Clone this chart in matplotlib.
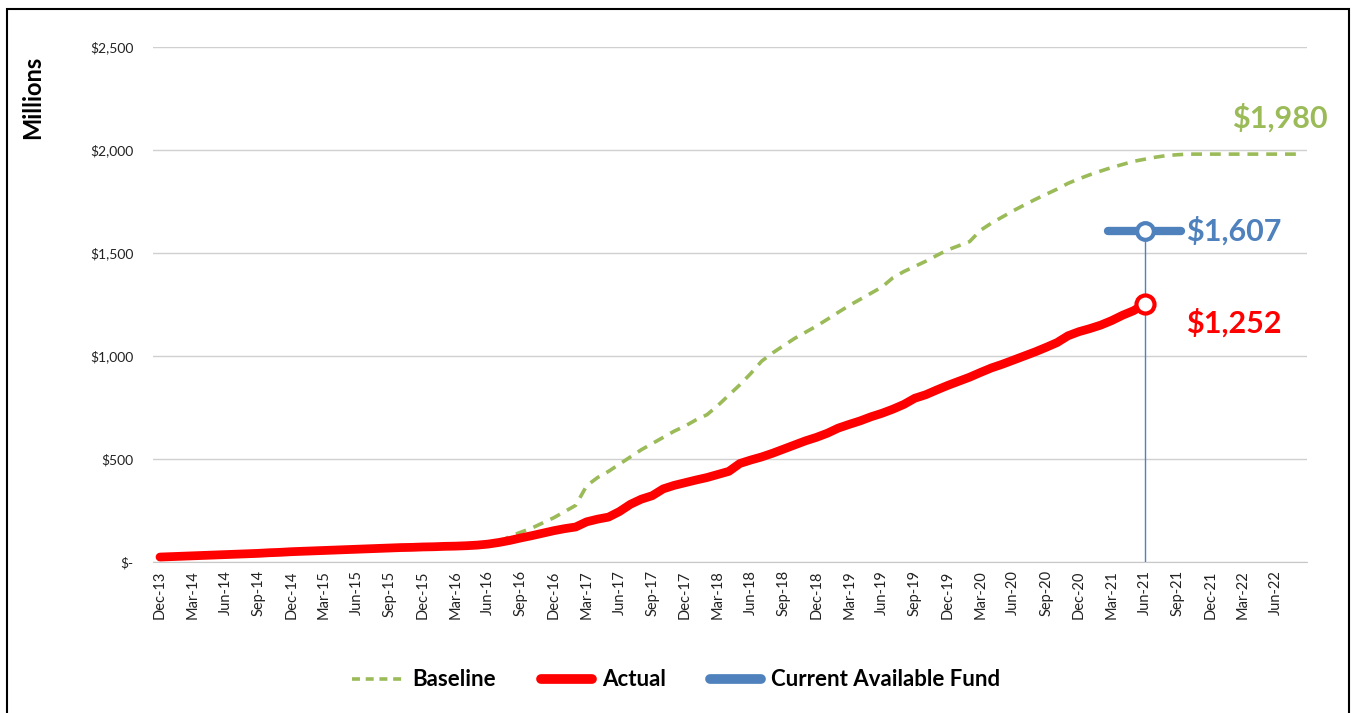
import matplotlib
matplotlib.use("Agg")
import matplotlib.pyplot as plt
import matplotlib.patches as mpatches
from matplotlib.lines import Line2D
import pandas as pd

plt.rcParams['font.family'] = ['Lato', 'DejaVu Sans']

# Monthly periods Dec-13 .. Aug-22
months = pd.date_range("2013-12-01", "2022-08-01", freq="MS")
month_labels = [d.strftime("%b-%y") for d in months]

# Actual cumulative spend ($M), Dec-13 .. Jun-21
actual = [24, 26, 28, 30, 32, 34, 36, 38, 40, 42, 45, 47, 50, 52, 54, 56, 58, 60,
          62, 64, 66, 68, 70, 71, 73, 74, 76, 77, 79, 82, 87, 95, 105, 117, 128,
          140, 152, 162, 170, 195, 208, 218, 245, 280, 305, 322, 355, 372, 385,
          398, 410, 425, 440, 478, 495, 510, 528, 548, 568, 588, 605, 625, 650,
          668, 685, 705, 722, 742, 765, 795, 812, 835, 857, 877, 897, 920, 942,
          960, 980, 1000, 1020, 1042, 1065, 1098, 1118, 1133, 1150, 1172, 1198,
          1220, 1252]

# Baseline ($M), Jul-16 .. Aug-22
baseline_start = 31
baseline = [95, 125, 145, 165, 190, 215, 245, 275, 370, 410, 440, 475, 510, 545,
            575, 605, 635, 660, 690, 715, 760, 810, 860, 915, 975, 1015, 1050,
            1085, 1115, 1145, 1178, 1212, 1245, 1275, 1305, 1335, 1380, 1410,
            1435, 1460, 1488, 1515, 1535, 1555, 1610, 1645, 1675, 1705, 1733,
            1760, 1785, 1810, 1838, 1860, 1880, 1898, 1915, 1930, 1945, 1955,
            1965, 1973, 1977, 1980, 1980, 1980, 1980, 1980, 1980, 1980, 1980,
            1980, 1980, 1980]

current_fund = 1607
fund_month = "Jun-21"
fund_span = 3.3  # months either side

GREEN = "#9BBB59"
RED = "#FF0000"
BLUE = "#4F81BD"

W, H = 1354, 713
fig = plt.figure(figsize=(W / 100, H / 100), dpi=100)
ax = fig.add_axes([153 / W, 1 - 562 / H, (1307 - 153) / W, (562 - 47) / H])

x_actual = list(range(len(actual)))
x_base = list(range(baseline_start, baseline_start + len(baseline)))
fi = month_labels.index(fund_month)

ax.plot(x_base, baseline, color=GREEN, lw=2.6, ls=(0, (3, 2.2)), zorder=3)
ax.plot(x_actual, actual, color=RED, lw=6.3, solid_capstyle='round',
        solid_joinstyle='round', zorder=4)
ax.plot([x_actual[-1]], [actual[-1]], 'o', ms=13, mfc='white', mec=RED, mew=3, zorder=6)

ax.plot([fi, fi], [0, current_fund], color=BLUE, lw=1, zorder=2)
ax.plot([fi - fund_span, fi + fund_span], [current_fund, current_fund], color=BLUE,
        lw=6, solid_capstyle='round', zorder=5)
ax.plot([fi], [current_fund], 'o', ms=12, mfc='white', mec=BLUE, mew=3, zorder=6)

ax.text(106.7, 2155, "${:,}".format(baseline[-1]), color=GREEN,
        fontsize=22, fontweight='bold', ha='right', va='center', clip_on=False)
ax.text(fi + 3.8, current_fund, "${:,}".format(current_fund), color=BLUE,
        fontsize=22, fontweight='bold', ha='left', va='center')
ax.text(fi + 3.8, 1160, "${:,}".format(actual[-1]), color=RED,
        fontsize=22, fontweight='bold', ha='left', va='center')

ax.set_xlim(-0.64, 104.85)
ax.set_ylim(0, 2500)
yt = [0, 500, 1000, 1500, 2000, 2500]
ax.set_yticks(yt)
ax.set_yticklabels(["$-" if v == 0 else "${:,}".format(v) for v in yt],
                   fontsize=10, color="#222222")
xt = list(range(0, len(months), 3))
ax.set_xticks(xt)
ax.set_xticklabels([month_labels[i] for i in xt], rotation=90, fontsize=10.5,
                   color="#222222")
ax.tick_params(axis='y', length=0, pad=14)
ax.tick_params(axis='x', length=0, pad=6)
ax.grid(axis='y', color="#D0D0D0", lw=1)
ax.set_axisbelow(True)
for s in ['top', 'right', 'left']:
    ax.spines[s].set_visible(False)
ax.spines['bottom'].set_color("#C8C8C8")

fig.text(33 / W, 1 - 97 / H, "Millions", rotation=90, fontsize=17,
         fontweight='bold', ha='center', va='center')

handles = [Line2D([], [], color=GREEN, lw=2.6, ls=(0, (2.2, 1.6))),
           Line2D([], [], color=RED, lw=7, solid_capstyle='round'),
           Line2D([], [], color=BLUE, lw=7, solid_capstyle='round')]
fig.legend(handles, ["Baseline", "Actual", "Current Available Fund"],
           loc='center', bbox_to_anchor=(676 / W, 1 - 680 / H), ncol=3,
           frameon=False, handlelength=2.3, columnspacing=2.0, handletextpad=0.45,
           prop={'weight': 'bold', 'size': 16})

fig.patches.append(mpatches.Rectangle((7 / W, -0.05), (1349 - 7) / W, 1.05 - 9 / H,
                                      transform=fig.transFigure, fill=False,
                                      edgecolor='black', lw=1.5))

fig.savefig("out.png", dpi=100)
